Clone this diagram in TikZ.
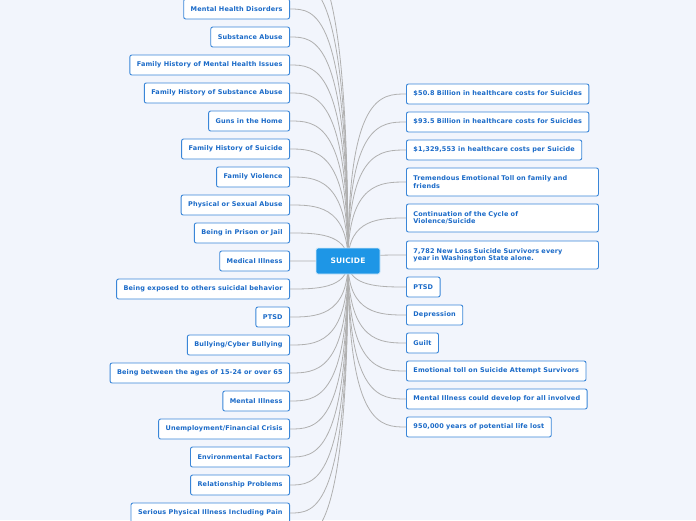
\documentclass[tikz,border=0pt]{standalone}
\usepackage{fontspec}
\setmainfont{DejaVu Sans}[LetterSpace=2]
\usetikzlibrary{calc}
\definecolor{bg}{HTML}{F2F5FC}
\definecolor{bd}{HTML}{3A86D8}
\definecolor{tx}{HTML}{1A6AC8}
\definecolor{cf}{HTML}{1E96E6}
\definecolor{ln}{HTML}{B0B0B0}
\tikzset{
 lbox/.style={draw=bd,line width=0.9pt,fill=white,rounded corners=2pt,text=tx,font=\fontsize{6.5}{7.3}\selectfont\bfseries,anchor=east,minimum height=20pt,inner xsep=7pt},
 rbox/.style={lbox,anchor=west,align=left},
 rwide/.style={rbox,text width=178pt,minimum height=28pt},
 conn/.style={draw=ln,line width=0.8pt},
}
\begin{document}
\begin{tikzpicture}[x=1pt,y=-1pt]
\useasboundingbox (0,0) rectangle (696,520);
\fill[bg] (0,0) rectangle (696,520);
\begin{scope}
\clip (0,0) rectangle (696,520);
\coordinate (c) at (348,262);
\coordinate (o1) at (290,-19);
\coordinate (o2) at (290,-47);
\coordinate (o3) at (290,541);
\foreach \o in {o1,o2,o3}{
 \draw[conn] (c) .. controls ($(c|-\o)$) and ($(\o)+(25,0)$) .. (\o);}
\foreach \n/\y/\t in {
 l1/9/Mental Health Disorders,
 l2/37/Substance Abuse,
 l3/65/Family History of Mental Health Issues,
 l4/93/Family History of Substance Abuse,
 l5/121/Guns in the Home,
 l6/149/Family History of Suicide,
 l7/177/Family Violence,
 l8/205/Physical or Sexual Abuse,
 l9/233/Being in Prison or Jail,
 l10/261/Medical Illness,
 l11/289/Being exposed to others suicidal behavior,
 l12/317/PTSD,
 l13/345/{Bullying/Cyber Bullying},
 l14/373/Being between the ages of 15-24 or over 65,
 l15/401/Mental Illness,
 l16/429/{Unemployment/Financial Crisis},
 l17/457/Environmental Factors,
 l18/485/Relationship Problems,
 l19/513/Serious Physical Illness Including Pain}{
 \node[lbox] (\n) at (290,\y) {\t};
 \draw[conn] (c) .. controls ($(c|-\n.east)$) and ($(\n.east)+(25,0)$) .. (\n.east);}
\foreach \n/\y/\t/\s in {
 r1/94/\$50.8 Billion in healthcare costs for Suicides/rbox,
 r2/122/\$93.5 Billion in healthcare costs for Suicides/rbox,
 r3/150/\$1{,}329{,}553 in healthcare costs per Suicide/rbox,
 r4/182/{Tremendous Emotional Toll on family and\\friends}/rwide,
 r5/218/{Continuation of the Cycle of\\{Violence/Suicide}}/rwide,
 r6/255/{7{,}782 New Loss Suicide Survivors every\\year in Washington State alone.}/rwide,
 r7/287/PTSD/rbox,
 r8/315/Depression/rbox,
 r9/343/Guilt/rbox,
 r10/371/Emotional toll on Suicide Attempt Survivors/rbox,
 r11/399/Mental Illness could develop for all involved/rbox,
 r12/427/950{,}000 years of potential life lost/rbox}{
 \node[\s] (\n) at (406,\y) {\t};
 \draw[conn] (c) .. controls ($(c|-\n.west)$) and ($(\n.west)+(-25,0)$) .. (\n.west);}
\node[draw=white!80!cf,line width=0.8pt,fill=cf,rounded corners=2pt,text=white,font=\fontsize{7.5}{8}\selectfont\bfseries,minimum width=64pt,minimum height=26pt] (s) at (348,261) {SUICIDE};
\end{scope}
\end{tikzpicture}
\end{document}
